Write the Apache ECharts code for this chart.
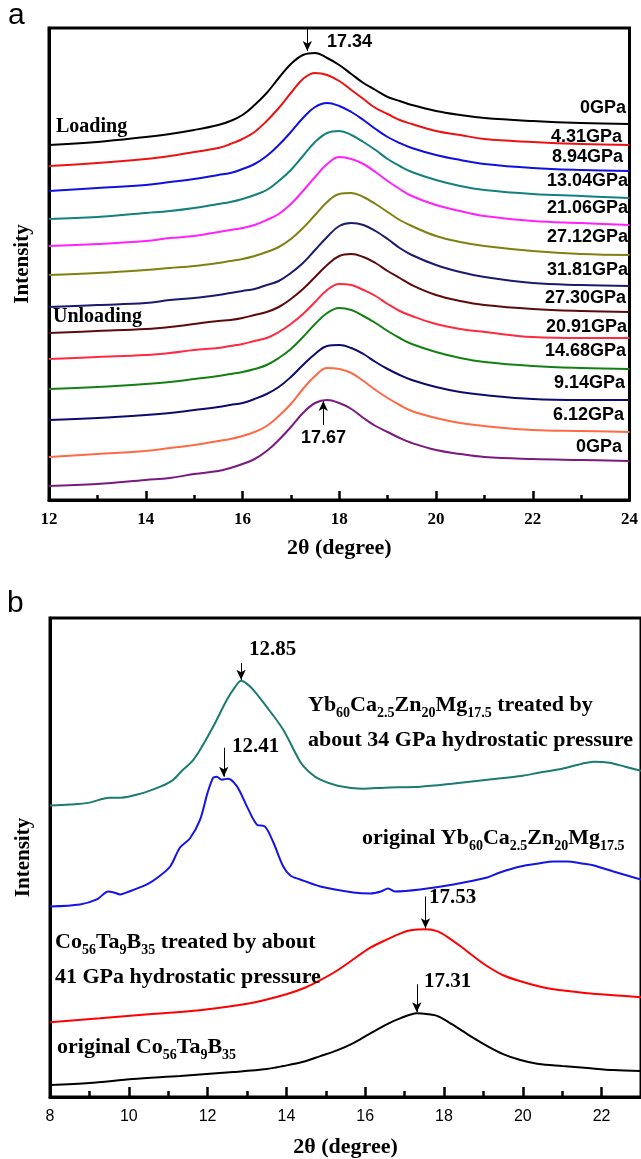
<!DOCTYPE html>
<html><head><meta charset="utf-8">
<script src="https://cdn.jsdelivr.net/npm/echarts@6/dist/echarts.min.js"></script>
<style>html,body{margin:0;padding:0;background:#fff}#c{width:641px;height:1159px}</style>
</head><body><div id="c"></div>
<script>
// ---------- Panel a data (2θ, stacked intensity, arbitrary units) ----------
const thetaA = [12,13,14,14.5,15,15.5,15.75,16,16.25,16.5,16.75,17,17.25,17.5,17.75,18,18.25,18.5,18.75,19,19.25,19.5,20,20.5,21,22,23,24];
const load0    = [355,358,363,366,370,375,379,385,395,407,422,436,445,447,442,435,426,417,410,403,399,395,389,385,382,379,377,376];
const load431  = [334,337,341,344,348,352,356,361,368,379,392,407,421,427,425,419,410,401,392,386,380,376,369,365,361,358,356,355];
const load894  = [309,312,315,318,321,325,327,331,336,344,355,368,382,393,397,394,388,380,371,363,357,352,345,340,336,332,330,329];
const load1304 = [281,283,287,289,292,296,298,301,305,310,319,330,344,358,367,369,365,358,350,341,334,328,320,314,310,306,304,302];
const load2106 = [254,256,259,262,264,268,270,272,275,280,286,296,309,323,336,343,341,336,328,319,311,304,295,289,284,279,277,275];
const load2712 = [225,227,230,232,234,237,239,241,244,248,253,261,272,285,298,306,307,303,296,288,280,274,264,258,254,249,246,245];
const load3181 = [193,195,197,200,202,205,207,209,211,215,219,227,237,250,263,274,277,275,269,261,252,245,235,228,223,217,215,214];
const unl2730  = [167,169,171,173,176,179,180,182,185,188,193,201,211,223,235,244,246,243,237,229,222,215,205,199,195,191,189,188];
const unl2091  = [141,143,145,147,150,152,154,156,159,162,168,176,186,198,210,216,215,210,204,196,189,184,176,171,168,163,162,162];
const unl1468  = [111,113,116,118,121,124,126,128,131,135,142,151,163,176,187,192,190,184,177,169,162,156,148,142,138,134,132,131];
const unl914   = [80,82,85,87,90,93,95,97,101,106,113,123,135,146,154,155,152,146,138,131,125,120,113,108,105,101,100,100];
const unl612   = [43,46,49,52,55,59,61,64,68,74,84,96,111,124,132,131,127,119,110,102,95,89,82,77,74,70,69,68];
const unl0     = [14,16,20,22,26,29,32,36,41,49,60,73,87,97,100,97,91,82,74,68,62,57,50,46,43,41,40,39];
const seriesA = [load0,load431,load894,load1304,load2106,load2712,load3181,unl2730,unl2091,unl1468,unl914,unl612,unl0];
const labelsA = ['0GPa','4.31GPa','8.94GPa','13.04GPa','21.06GPa','27.12GPa','31.81GPa','27.30GPa','20.91GPa','14.68GPa','9.14GPa','6.12GPa','0GPa'];
// arrows: [2θ, from, to, label]
const arrowsA = [[17.34, 472, 449, '17.34'], [17.67, 75, 99, '17.67']];

// ---------- Panel b data ----------
const ybTreated = [[8,292],[8.5,293],[9,295],[9.5,300],[9.8,300],[10.3,304],[10.8,311],[11.1,317],[11.35,327],[11.6,336],[11.81,348],[12.14,371],[12.49,398],[12.7,411],[12.85,417],[13.0,414],[13.16,408],[13.5,391],[13.92,368],[14.35,336],[14.6,325],[14.86,318],[15.3,312],[15.95,309],[16.5,310],[17.4,311],[18.2,314],[19.1,318],[20,322],[20.4,325],[21,329],[21.5,334],[21.8,336],[22.2,335],[22.6,331],[23,327]];
const ybOriginal = [[8,191],[8.76,193],[9.19,198],[9.48,206],[9.62,205],[9.78,203],[9.95,205],[10.46,213],[10.8,222],[11.05,231],[11.3,250],[11.55,259],[11.81,278],[12.0,305],[12.14,320],[12.23,321],[12.36,318],[12.52,319],[12.75,311],[13.0,291],[13.25,273],[13.46,271],[13.67,255],[13.92,231],[14.1,222],[14.35,218],[14.86,211],[15.7,205],[16.13,204],[16.4,206],[16.58,209],[16.75,206],[17.39,208],[18.24,213],[19.1,220],[19.42,225],[19.94,231],[20.4,234],[20.78,236],[21.13,236],[21.5,234],[21.8,232],[22.3,226],[23,218]];
const coTreated = [[8,75],[9.27,79],[10.5,83],[11.8,87],[13.08,94],[14,103],[14.5,110],[14.86,117],[15.3,127],[15.7,138],[16.1,149],[16.56,158],[16.9,164],[17.15,167],[17.53,168],[17.84,166],[18.1,160],[18.42,151],[18.75,141],[19.1,131],[19.5,122],[19.94,116],[20.4,111],[20.78,108],[21.2,106],[21.64,104],[22.3,102],[23,100]];
const coOriginal = [[8,12],[9,14],[10.1,18],[11.3,21],[12.65,25],[13.5,28],[13.92,31],[14.4,35],[14.86,41],[15.3,47],[15.7,54],[16.1,63],[16.56,73],[16.9,79],[17.31,84],[17.6,83],[17.84,81],[18.2,73],[18.67,61],[19.1,51],[19.5,43],[19.94,37],[20.4,33],[21,31],[21.64,29],[22.3,27],[23,26]];
const arrowsB = [[12.85, 435, 418, '12.85'], [12.41, 350, 321, '12.41'], [17.53, 201, 169, '17.53'], [17.31, 113, 85, '17.31']];

// ---------- styles / layout ----------
const SERIF = '"Liberation Serif", "Times New Roman", serif';
const SANS = '"Liberation Sans", Arial, sans-serif';
const colorsA = ['#000000','#ee1111','#1010e0','#138080','#ff22ff','#808010','#1a1a70','#5e0a0a','#ff2a40','#148014','#0c0c6e','#ff6a45','#7a1a80'];
const colorsB = ['#1a7b72','#1414e6','#ff0000','#000000'];

const chart = echarts.init(document.getElementById('c'), null, {renderer:'canvas'});

function arrowMark(list) {
  return {
    silent: true, animation: false,
    symbol: ['none', 'arrow'], symbolSize: [7, 10],
    lineStyle: {color: '#000', width: 1, type: 'solid'},
    label: {show: false},
    data: list.map(a => [{coord: [a[0], a[1]]}, {coord: [a[0], a[2]]}])
  };
}

const series = [];
seriesA.forEach((arr, i) => {
  const s = {
    type: 'line', xAxisIndex: 0, yAxisIndex: 0, smooth: 0.4, showSymbol: false, animation: false,
    lineStyle: {color: colorsA[i], width: 2}, itemStyle: {color: colorsA[i]},
    data: thetaA.map((x, k) => [x, arr[k]])
  };
  if (i === 0) s.markLine = arrowMark([arrowsA[0]]);
  if (i === 12) s.markLine = arrowMark([arrowsA[1]]);
  series.push(s);
});
[ybTreated, ybOriginal, coTreated, coOriginal].forEach((d, i) => {
  series.push({
    type: 'line', xAxisIndex: 1, yAxisIndex: 1, smooth: 0.3, showSymbol: false, animation: false,
    lineStyle: {color: colorsB[i], width: 2}, itemStyle: {color: colorsB[i]},
    data: d,
    markLine: arrowMark([arrowsB[i]])
  });
});

const NAME_STYLE = {fontFamily: SERIF, fontWeight: 'bold', fontSize: 22, color: '#000'};
function yAxisCfg(gi, max, gap) {
  return {
    type: 'value', gridIndex: gi, min: 0, max: max,
    axisLine: {show: true, lineStyle: {color: '#000', width: 3}},
    axisTick: {show: false}, axisLabel: {show: false}, splitLine: {show: false},
    name: 'Intensity', nameLocation: 'middle', nameGap: gap,
    nameTextStyle: {fontFamily: SERIF, fontWeight: 'bold', fontSize: 21, color: '#000'}
  };
}

const option = {
  animation: false,
  backgroundColor: '#fff',
  grid: [
    {left: 49, top: 28, width: 582, height: 472, show: true, borderColor: '#000', borderWidth: 3, backgroundColor: 'transparent'},
    {left: 50, top: 618, width: 591, height: 480, show: true, borderColor: '#000', borderWidth: 3, backgroundColor: 'transparent'}
  ],
  xAxis: [
    {
      type: 'value', gridIndex: 0, min: 12, max: 24, interval: 2, position: 'bottom',
      axisLine: {show: true, onZero: false, lineStyle: {color: '#000', width: 3}},
      axisTick: {show: true, inside: true, length: 9, lineStyle: {color: '#000', width: 2.5}},
      minorTick: {show: true, splitNumber: 2, length: 5, lineStyle: {color: '#000', width: 2.5}},
      splitLine: {show: false},
      axisLabel: {color: '#000', fontFamily: SERIF, fontWeight: 'bold', fontSize: 17, margin: 11},
      name: '2θ (degree)', nameLocation: 'middle', nameGap: 37, nameTextStyle: NAME_STYLE
    },
    {
      type: 'value', gridIndex: 1, min: 8, max: 23, interval: 2, position: 'bottom',
      axisLine: {show: true, onZero: false, lineStyle: {color: '#000', width: 3}},
      axisTick: {show: true, inside: true, length: 10, lineStyle: {color: '#000', width: 2.5}},
      splitLine: {show: false},
      axisLabel: {color: '#000', fontFamily: SANS, fontSize: 16, margin: 12, showMaxLabel: false},
      name: '2θ (degree)', nameLocation: 'middle', nameGap: 39, nameTextStyle: NAME_STYLE
    },
    {
      // minor ticks for panel b (every unit)
      type: 'value', gridIndex: 1, min: 8, max: 23, interval: 1, position: 'bottom', offset: 0,
      axisLine: {show: false}, axisLabel: {show: false}, splitLine: {show: false},
      axisTick: {show: true, inside: true, length: 6, lineStyle: {color: '#000', width: 2.5}}
    }
  ],
  yAxis: [yAxisCfg(0, 472, 16), yAxisCfg(1, 480, 16)],
  series: series
};
chart.setOption(option);

// ---------- text annotations ----------
function T(x, y, text, font, align) {
  return {type: 'text', x: x, y: y, z: 100, silent: true,
    style: {text: text, font: font, fill: '#000', align: align || 'left', verticalAlign: 'middle'}};
}
const richF = {
  m: {fontSize: 22, fontWeight: 'bold', fontFamily: SERIF, lineHeight: 30, verticalAlign: 'middle', fill: '#000'},
  s: {fontSize: 14, fontWeight: 'bold', fontFamily: SERIF, lineHeight: 6, verticalAlign: 'bottom', fill: '#000'}
};
function R(x, y, text) {
  return {type: 'text', x: x, y: y, z: 100, silent: true,
    style: {text: text, rich: richF, fill: '#000', align: 'left', verticalAlign: 'middle'}};
}
const GPA_FONT = 'bold 18px ' + SANS;
const gpaPos = [[626,108],[622,137],[623,157],[628,181],[628,208],[628,237],[628,270],[626,298],[627,327],[626,351],[625,383],[624,415],[622,447]];
const elements = [
  T(8, 16, 'a', '30px ' + SANS),
  T(7, 604, 'b', '30px ' + SANS),
  T(56, 127, 'Loading', 'bold 20px ' + SERIF),
  T(53, 317, 'Unloading', 'bold 20px ' + SERIF),
  T(327, 42, arrowsA[0][3], 'bold 18px ' + SANS),
  T(301, 438, arrowsA[1][3], 'bold 18px ' + SANS),
  T(249, 650, arrowsB[0][3], 'bold 21px ' + SERIF),
  T(232, 747, arrowsB[1][3], 'bold 21px ' + SERIF),
  T(429, 898, arrowsB[2][3], 'bold 21px ' + SERIF),
  T(424, 982, arrowsB[3][3], 'bold 21px ' + SERIF),
  R(308, 705, '{m|Yb}{s|60}{m|Ca}{s|2.5}{m|Zn}{s|20}{m|Mg}{s|17.5}{m| treated by}'),
  R(308, 740, '{m|about 34 GPa hydrostatic pressure}'),
  R(362, 838, '{m|original Yb}{s|60}{m|Ca}{s|2.5}{m|Zn}{s|20}{m|Mg}{s|17.5}'),
  R(55, 942, '{m|Co}{s|56}{m|Ta}{s|9}{m|B}{s|35}{m| treated by about}'),
  R(55, 977, '{m|41 GPa hydrostatic pressure}'),
  R(57, 1047, '{m|original Co}{s|56}{m|Ta}{s|9}{m|B}{s|35}')
];
labelsA.forEach((t, i) => elements.push(T(gpaPos[i][0], gpaPos[i][1], t, GPA_FONT, 'right')));
chart.setOption({graphic: {elements: elements}});
</script>
</body></html>
